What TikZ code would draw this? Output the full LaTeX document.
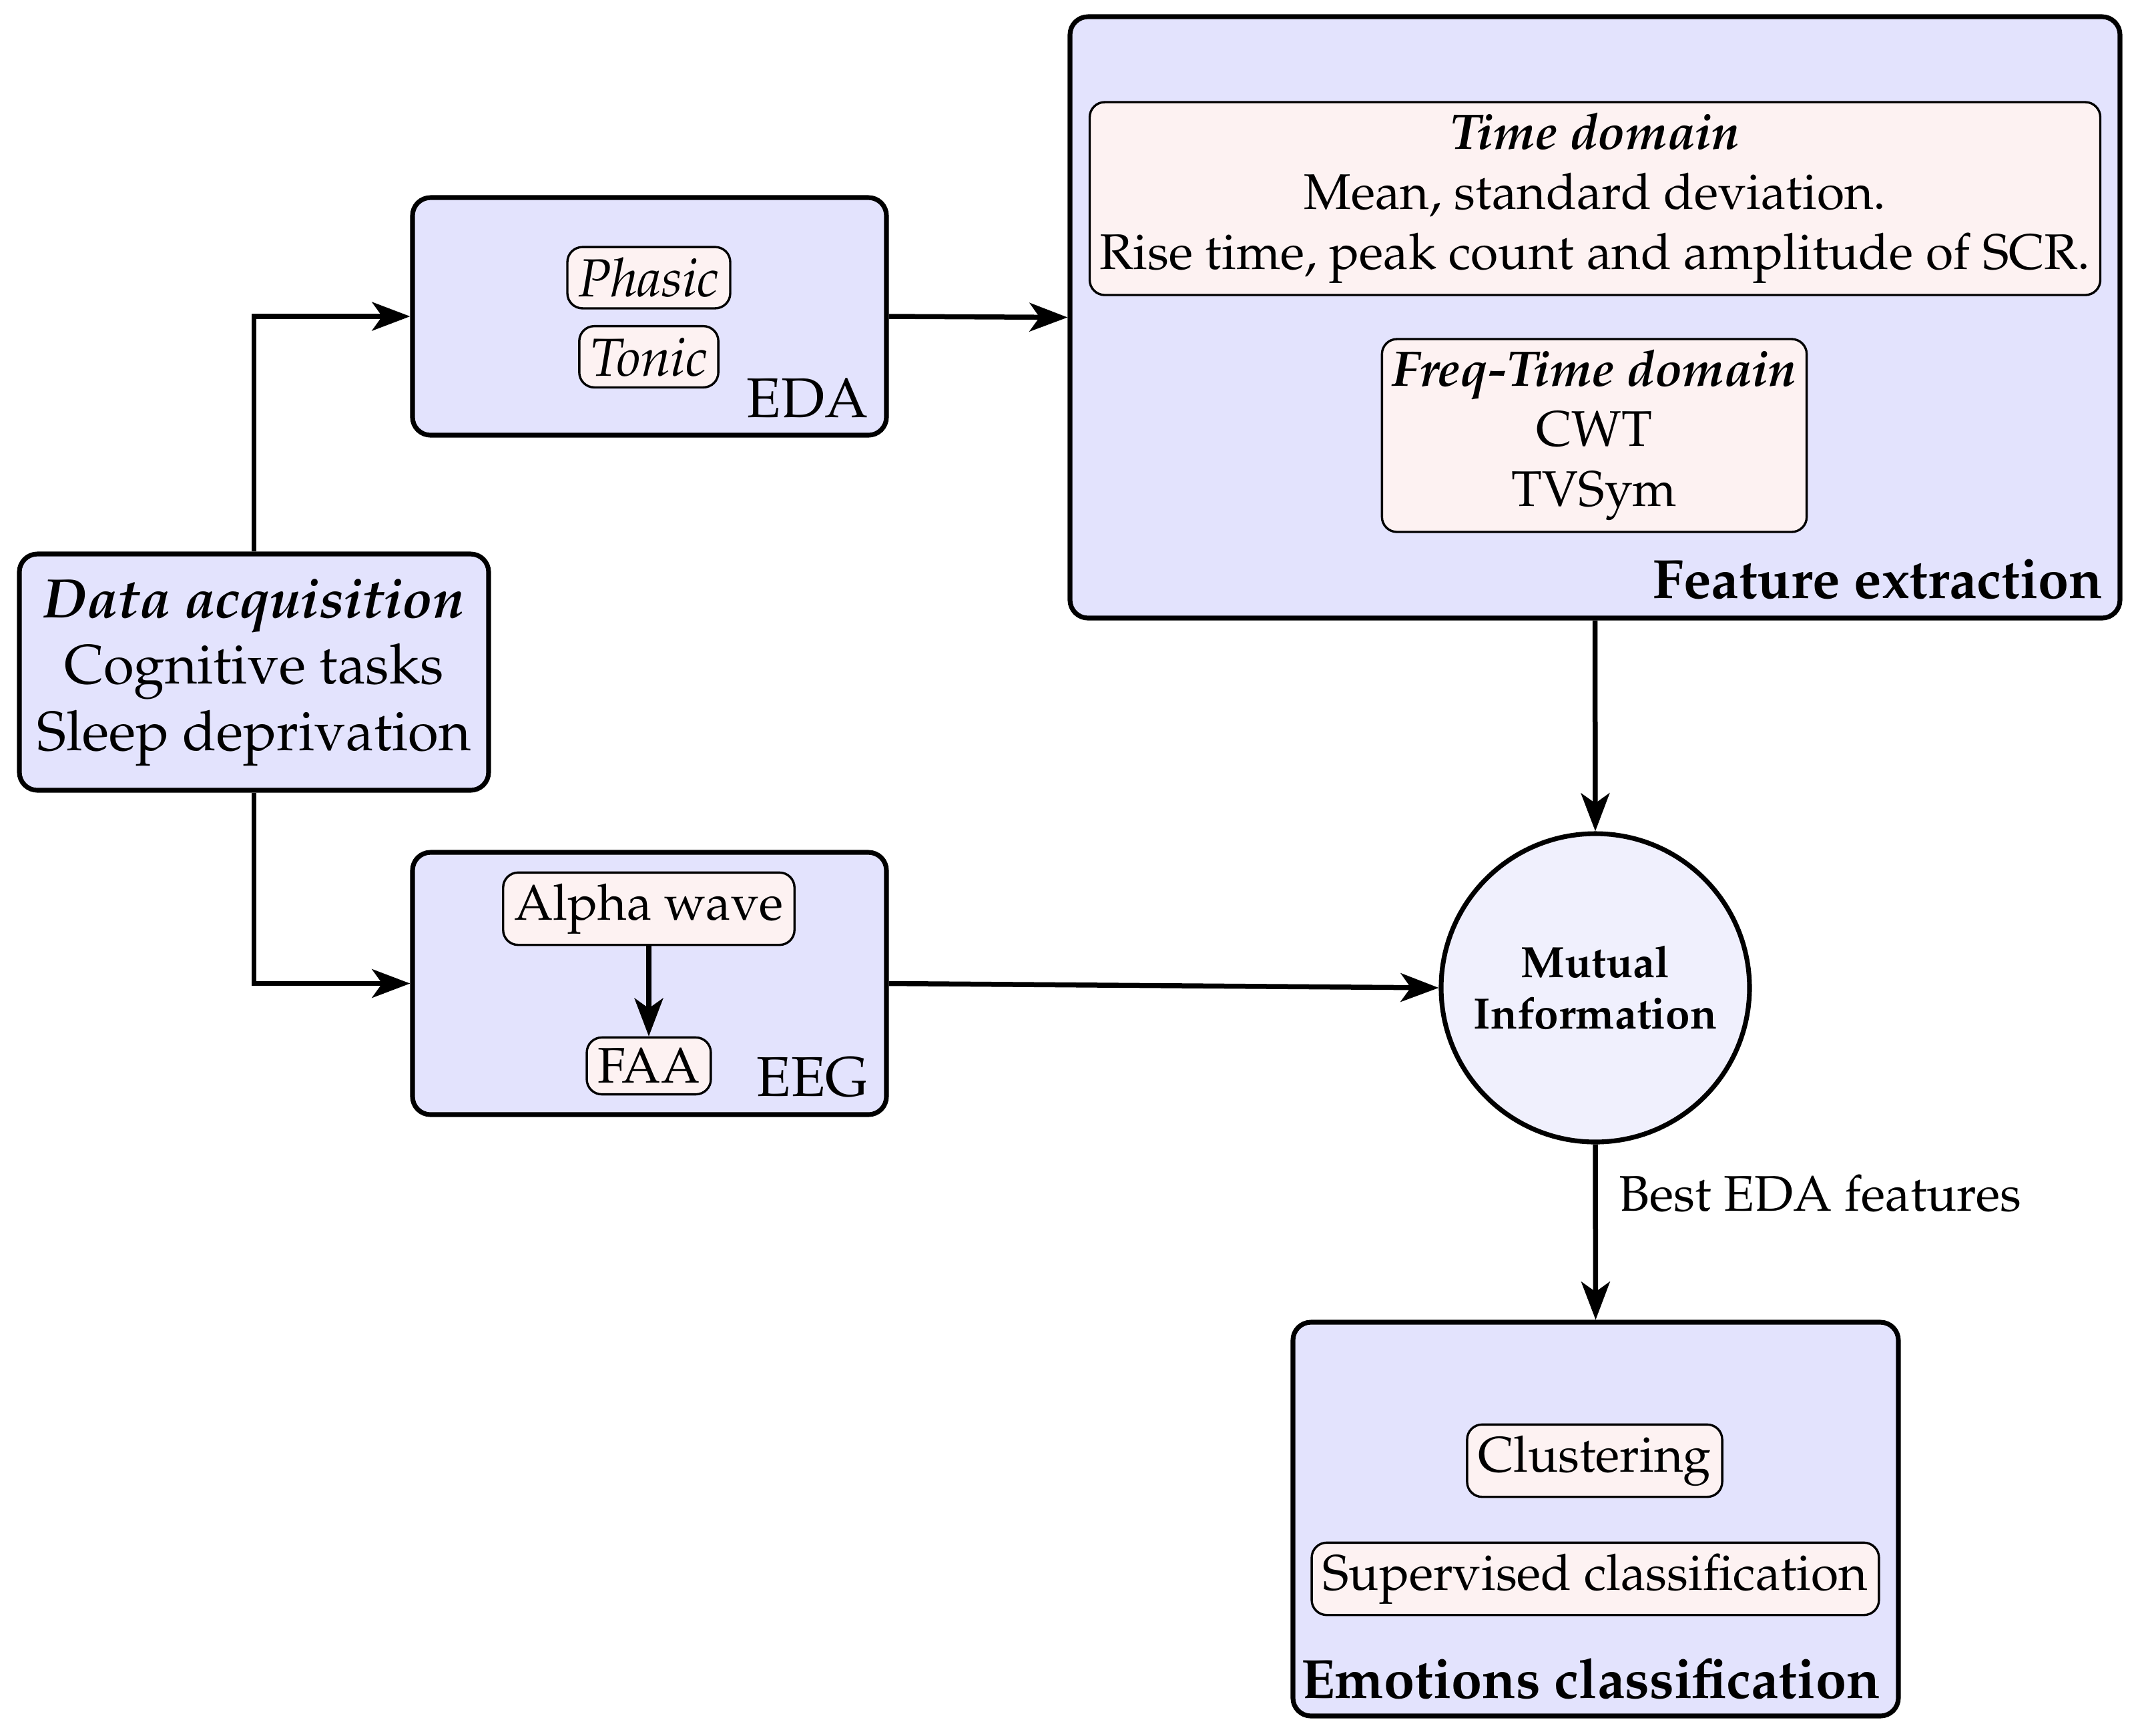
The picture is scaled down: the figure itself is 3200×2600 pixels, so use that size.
\documentclass[tikz,border=0pt]{standalone}
\usepackage[T1]{fontenc}
\usepackage{mathpazo}
\usetikzlibrary{arrows.meta}
\definecolor{boxblue}{RGB}{227,227,253}
\definecolor{circblue}{RGB}{240,240,253}
\definecolor{innerred}{RGB}{253,242,242}
\def\u{0.13333pt}
\begin{document}
\begin{tikzpicture}[x=0.13333pt,y=-0.13333pt,
  outer/.style={draw, line width=0.95pt, rounded corners=3.6pt, fill=boxblue, inner sep=0pt},
  inner/.style={draw, line width=0.45pt, rounded corners=3pt, fill=innerred, inner sep=2.2pt},
  arr/.style={line width=1pt, -{Stealth[length=7.6pt, width=5.7pt, inset=2pt]}},
  lbl/.style={inner sep=0pt},
  big/.style={font=\fontsize{11.2pt}{13.4pt}\selectfont},
  bigbf/.style={font=\fontsize{11.05pt}{13.3pt}\selectfont\bfseries}
]
\useasboundingbox (0,0) rectangle (3200,2600);
% outer boxes
\node[outer, minimum width=703*\u, minimum height=354*\u, align=center,
  font=\fontsize{11.1pt}{13.3pt}\selectfont] (da) at (380.5,1007)
  {\textbf{\textit{Data acquisition}}\\Cognitive tasks\\Sleep deprivation};
\node[outer, minimum width=710*\u, minimum height=356*\u] (eda) at (973,474) {};
\node[outer, minimum width=710*\u, minimum height=393*\u] (eeg) at (973,1473.5) {};
\node[outer, minimum width=1573*\u, minimum height=901*\u] (feat) at (2389.5,475.5) {};
\node[draw, circle, line width=0.95pt, fill=circblue, minimum size=462*\u, inner sep=0pt, align=center,
  font=\fontsize{8.75pt}{10.3pt}\selectfont\bfseries] (mi) at (2390,1480) {Mutual\\Information};
\node[outer, minimum width=907*\u, minimum height=590*\u] (emo) at (2390.5,2276) {};
% inner nodes
\node[inner, font=\fontsize{10.7pt}{12.8pt}\selectfont] (phasic) at (972,416) {\textit{Phasic}};
\node[inner, font=\fontsize{10.7pt}{12.8pt}\selectfont] (tonic) at (972,534.5) {\textit{Tonic}};
\node[lbl, anchor=base east, big] (edal) at (1302,625) {EDA};
\node[inner] (alpha) at (972,1361.5) {Alpha wave};
\node[inner] (faa) at (972,1597) {FAA};
\node[lbl, anchor=base east, big] (eegl) at (1302,1642) {EEG};
\node[inner, inner sep=2pt, minimum width=1511*\u, minimum height=289*\u, align=center] (timed) at (2389.5,297.5)
  {\textbf{\textit{Time domain}}\\Mean, standard deviation.\\Rise time, peak count and amplitude of SCR.};
\node[inner, inner sep=2pt, minimum width=635*\u, minimum height=289*\u, align=center] (freqd) at (2388.5,652.5)
  {\textbf{\textit{Freq-Time domain}}\\CWT\\TVSym};
\node[lbl, anchor=base east, bigbf] (featl) at (3152,896) {Feature extraction};
\node[inner] (clus) at (2389,2188.5) {Clustering};
\node[inner] (sup) at (2390,2365.5) {Supervised classification};
\node[lbl, anchor=base, bigbf] (emol) at (2383,2544) {Emotions classification};
% connectors
\draw[arr] (da.north) |- (eda.west);
\draw[arr] (da.south) |- (eeg.west);
\draw[arr] (eda.east) -- (feat.west);
\draw[arr] (eeg.east) -- (mi.west);
\draw[arr] (feat.south) -- (mi.north);
\draw[arr] (mi.south) -- node[anchor=base west, pos=0.38, xshift=32*\u, inner sep=0pt] (best) {Best EDA features} (emo.north);
\draw[arr] (alpha) -- (faa);
\end{tikzpicture}
\end{document}
